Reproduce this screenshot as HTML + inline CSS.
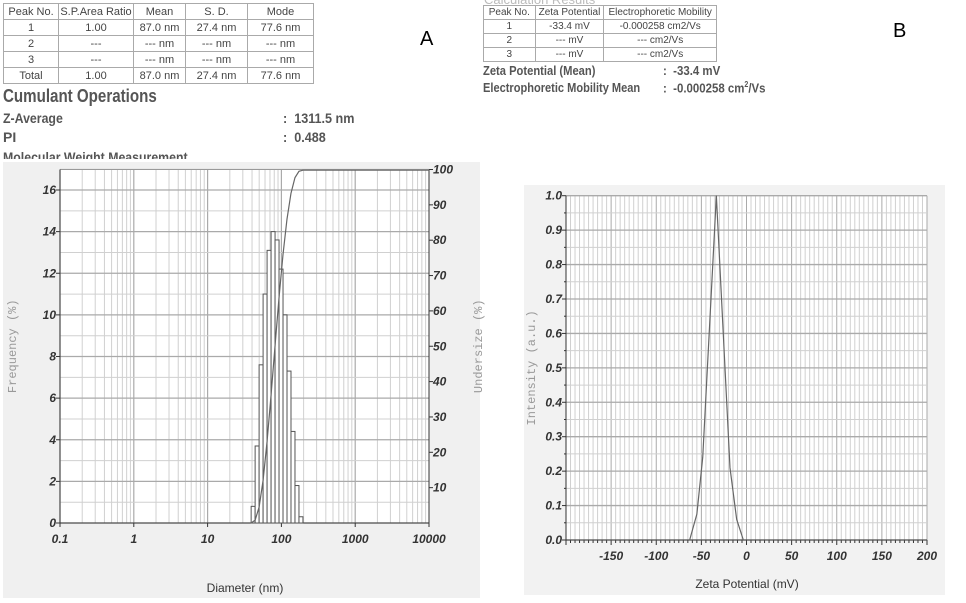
<!DOCTYPE html>
<html><head><meta charset="utf-8">
<style>
body{margin:0;width:966px;height:603px;background:#fff;position:relative;overflow:hidden;font-family:"Liberation Sans",sans-serif;color:#555}
.t{position:absolute;border-collapse:collapse;font-size:11px;color:#444}
.t td{border:1px solid #aaa;text-align:center;padding:0;height:15px;line-height:14px;white-space:nowrap;overflow:hidden}
.tb td{height:13px;line-height:12px;font-size:10px}
.abs{position:absolute;white-space:nowrap;transform-origin:0 0}
svg{position:absolute;left:0;top:0}
</style></head><body>
<table class="t" style="left:3px;top:3px;width:311px">
<colgroup><col style="width:55px"><col style="width:75px"><col style="width:52px"><col style="width:62px"><col style="width:66px"></colgroup>
<tr><td>Peak No.</td><td>S.P.Area Ratio</td><td>Mean</td><td>S. D.</td><td>Mode</td></tr>
<tr><td>1</td><td>1.00</td><td>87.0 nm</td><td>27.4 nm</td><td>77.6 nm</td></tr>
<tr><td>2</td><td>---</td><td>--- nm</td><td>--- nm</td><td>--- nm</td></tr>
<tr><td>3</td><td>---</td><td>--- nm</td><td>--- nm</td><td>--- nm</td></tr>
<tr><td>Total</td><td>1.00</td><td>87.0 nm</td><td>27.4 nm</td><td>77.6 nm</td></tr>
</table>
<div class="abs" style="left:3px;top:86px;font-size:18px;font-weight:bold;transform:scaleX(0.84)">Cumulant Operations</div>
<div class="abs" style="left:3px;top:110px;font-size:14px;font-weight:bold;transform:scaleX(0.88)">Z-Average</div>
<div class="abs" style="left:283px;top:110px;font-size:14px;font-weight:bold;transform:scaleX(0.9)">:&nbsp; 1311.5 nm</div>
<div class="abs" style="left:3px;top:129px;font-size:14px;font-weight:bold">PI</div>
<div class="abs" style="left:283px;top:129px;font-size:14px;font-weight:bold;transform:scaleX(0.9)">:&nbsp; 0.488</div>
<div class="abs" style="left:3px;top:149px;font-size:14px;font-weight:bold;height:10px;overflow:hidden;transform:scaleX(0.88)">Molecular Weight Measurement</div>
<div class="abs" style="left:420px;top:28px;font-size:20px;color:#000">A</div>

<div class="abs" style="left:484px;top:-8px;font-size:13px;color:#bbb;height:13px;overflow:hidden">Calculation Results</div>
<table class="t tb" style="left:483px;top:5px;width:234px">
<colgroup><col style="width:52px"><col style="width:69px"><col style="width:113px"></colgroup>
<tr><td>Peak No.</td><td>Zeta Potential</td><td>Electrophoretic Mobility</td></tr>
<tr><td>1</td><td>-33.4 mV</td><td>-0.000258 cm2/Vs</td></tr>
<tr><td>2</td><td>--- mV</td><td>--- cm2/Vs</td></tr>
<tr><td>3</td><td>--- mV</td><td>--- cm2/Vs</td></tr>
</table>
<div class="abs" style="left:483px;top:63px;font-size:13px;font-weight:bold;transform:scaleX(0.86)">Zeta Potential (Mean)</div>
<div class="abs" style="left:663px;top:63px;font-size:13px;font-weight:bold;transform:scaleX(0.88)">:&nbsp; -33.4 mV</div>
<div class="abs" style="left:483px;top:80px;font-size:13px;font-weight:bold;transform:scaleX(0.85)">Electrophoretic Mobility Mean</div>
<div class="abs" style="left:663px;top:80px;font-size:13px;font-weight:bold;transform:scaleX(0.88)">:&nbsp; -0.000258 cm<sup style="font-size:8px">2</sup>/Vs</div>
<div class="abs" style="left:893px;top:20px;font-size:20px;color:#000">B</div>

<svg id="s" width="966" height="603"></svg>
<script>
// Chart A data
const binStartLog = 1.59, binWidthLog = 0.054;
const freqValues = [0.8,3.7,7.6,11,13.1,14,13.6,12.2,10,7.3,4.4,1.8,0.3];
const freqTicks = [0,2,4,6,8,10,12,14,16];
const undersizeTicks = [10,20,30,40,50,60,70,80,90,100];
const diamTicks = [0.1,1,10,100,1000,10000];
// Chart B data
const zetaX = [-63,-55,-48.5,-33.4,-18.3,-10.9,-3.5];
const zetaY = [0,0.075,0.24,1.0,0.21,0.06,0];
const zetaXTicks = [-150,-100,-50,0,50,100,150,200];
const intensityTicks = [0,0.1,0.2,0.3,0.4,0.5,0.6,0.7,0.8,0.9,1.0];

const NS="http://www.w3.org/2000/svg", s=document.getElementById('s');
function el(t,a,p){const e=document.createElementNS(NS,t);for(const k in a)e.setAttribute(k,a[k]);(p||s).appendChild(e);return e;}

// ---------- Chart A ----------
const AL=60,AR=429,AT=169.5,AB=523;
const ax=v=>AL+(Math.log10(v)+1)*(AR-AL)/5;
const ay=v=>AB-v*(AB-190)/16;
const ay2=v=>AB-v*(AB-AT)/100;
const bgA=el('rect',{x:3,y:162,width:477,height:436,fill:'#f0f0f0'});

const pa=el('rect',{x:AL,y:AT,width:AR-AL,height:AB-AT,fill:'#fff'});

for(let d=-1;d<4;d++)for(let m=1;m<10;m++){const x=ax(m*Math.pow(10,d));
 el('line',{x1:x,x2:x,y1:AT,y2:AB,stroke:m==1?'#aaa':'#d0d0d0','stroke-width':m==1?1.2:1});}
for(let v=0;v<=17;v++){const y=ay(v);el('line',{x1:AL,x2:AR,y1:y,y2:y,stroke:v%2?'#d0d0d0':'#aaa','stroke-width':v%2?1:1.2});}
el('line',{x1:AL,x2:AR,y1:AT,y2:AT,stroke:'#999'});
el('line',{x1:AL,x2:AL,y1:AT,y2:AB+3,stroke:'#333'});
el('line',{x1:AR,x2:AR,y1:AT,y2:AB+3,stroke:'#333'});
el('line',{x1:AL,x2:AR,y1:AB,y2:AB,stroke:'#333'});
freqTicks.forEach(v=>{const y=ay(v);el('line',{x1:AL-4,x2:AL,y1:y,y2:y,stroke:'#333'});
 const t=el('text',{x:AL-4,y:y+4,'text-anchor':'end','font-size':12,'font-style':'italic','font-weight':'bold',fill:'#333'});t.textContent=v;
 });
undersizeTicks.forEach(v=>{const y=ay2(v);el('line',{x1:AR,x2:AR+4,y1:y,y2:y,stroke:'#333'});
 const t=el('text',{x:AR+4,y:y+4,'font-size':12,'font-style':'italic','font-weight':'bold',fill:'#333'});t.textContent=v;
 });
diamTicks.forEach(v=>{const x=ax(v);el('line',{x1:x,x2:x,y1:AB,y2:AB+4,stroke:'#333'});
 const t=el('text',{x:x,y:AB+20,'text-anchor':'middle','font-size':12,'font-style':'italic','font-weight':'bold',fill:'#333'});t.textContent=v;
 });
freqValues.forEach((v,i)=>{const x0=ax(Math.pow(10,binStartLog+i*binWidthLog)),x1=ax(Math.pow(10,binStartLog+(i+1)*binWidthLog));
 const r=el('rect',{x:x0,y:ay(v),width:x1-x0,height:AB-ay(v),fill:'#fff',stroke:'#555','stroke-width':1});
 });
let cum=0,pts=[[ax(Math.pow(10,binStartLog)),ay2(0)]];
freqValues.forEach((v,i)=>{cum+=v;pts.push([ax(Math.pow(10,binStartLog+(i+1)*binWidthLog)),ay2(Math.min(cum,100))]);});
pts.push([AR,ay2(Math.min(cum,100))]);
const cl=el('polyline',{points:pts.map(p=>p.join(',')).join(' '),fill:'none',stroke:'#666','stroke-width':1.2});

let t=el('text',{x:16,y:(AT+AB)/2,'text-anchor':'middle','font-size':12,'font-family':'Liberation Mono',fill:'#999',transform:`rotate(-90 16 ${(AT+AB)/2})`});t.textContent='Frequency (%)';

t=el('text',{x:482,y:(AT+AB)/2,'text-anchor':'middle','font-size':12,'font-family':'Liberation Mono',fill:'#999',transform:`rotate(-90 482 ${(AT+AB)/2})`});t.textContent='Undersize (%)';

t=el('text',{x:245,y:592,'text-anchor':'middle','font-size':12,fill:'#333'});t.textContent='Diameter (nm)';


// ---------- Chart B ----------
const BL=566,BR=927,BT=195.7,BB=540;
const bx=v=>BL+(v+200)*(BR-BL)/400;
const by=v=>BB-v*(BB-BT);
const bgB=el('rect',{x:524,y:185,width:421,height:410,fill:'#f2f2f2'});

const pb=el('rect',{x:BL,y:BT,width:BR-BL,height:BB-BT,fill:'#fff'});

for(let v=-200;v<=200;v+=5){const x=bx(v);el('line',{x1:x,x2:x,y1:BT,y2:BB,stroke:v%50==0?'#aaa':'#d0d0d0'});
 el('line',{x1:x,x2:x,y1:BB,y2:BB+(v%50==0?5:3),stroke:'#333'});}
for(let i=0;i<=20;i++){const y=by(i/20);el('line',{x1:BL,x2:BR,y1:y,y2:y,stroke:i%2?'#d0d0d0':'#aaa','stroke-width':i%2?1:1.3});
 el('line',{x1:BL-(i%2?2:4),x2:BL,y1:y,y2:y,stroke:'#333'});}
el('line',{x1:BL,x2:BL,y1:BT,y2:BB+5,stroke:'#333'});
el('line',{x1:BL,x2:BR,y1:BB,y2:BB,stroke:'#333'});
intensityTicks.forEach(v=>{const tt=el('text',{x:BL-4,y:by(v)+4,'text-anchor':'end','font-size':12,'font-style':'italic','font-weight':'bold',fill:'#333'});tt.textContent=v.toFixed(1);
 });
zetaXTicks.forEach(v=>{const tt=el('text',{x:bx(v),y:BB+20,'text-anchor':'middle','font-size':12,'font-style':'italic','font-weight':'bold',fill:'#333'});tt.textContent=v;
 });
const zl=el('polyline',{points:zetaX.map((v,i)=>bx(v)+','+by(zetaY[i])).join(' '),fill:'none',stroke:'#666','stroke-width':1.2});

t=el('text',{x:535,y:(BT+BB)/2,'text-anchor':'middle','font-size':12,'font-family':'Liberation Mono',fill:'#999',transform:`rotate(-90 535 ${(BT+BB)/2})`});t.textContent='Intensity (a.u.)';

t=el('text',{x:747,y:588,'text-anchor':'middle','font-size':12,fill:'#333'});t.textContent='Zeta Potential (mV)';

</script>
</body></html>
